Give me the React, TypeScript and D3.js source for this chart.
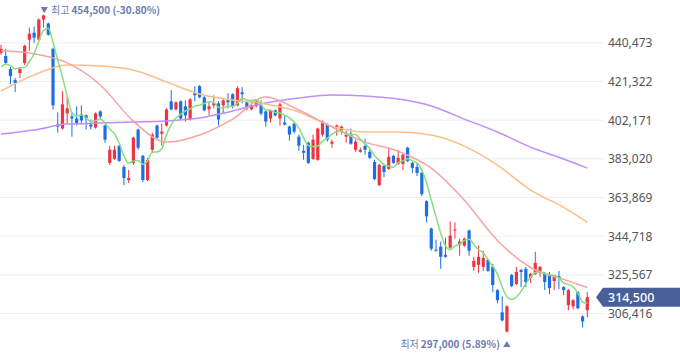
import React from "react";
import * as d3 from "d3";

// daily candles, oldest -> newest
const opens = [
  435500, 434000, 427500, 422000, 425500, 430500, 442000, 445500, 442000, 452000,
  450000, 437500, 400000, 398000, 405500, 404000, 403000, 405000, 404500, 400000,
  398500, 406500, 399500, 381000, 383000, 389500, 379000, 372500, 381000, 397500,
  384500, 372500, 387500, 399500, 395500, 399500, 411500, 407500, 411500, 409000,
  402500, 415500, 419000, 413500, 407500, 409500, 410500, 409500, 412000, 415000,
  409500, 416000, 411000, 407500, 409000, 409500, 406500, 403000, 407000, 403000,
  401000, 399000, 400500, 394000, 387000, 391000, 383000, 382500, 395000, 400000,
  390500, 398500, 397000, 394000, 395500, 387500, 386500, 389500, 386500, 381500,
  370000, 379500, 378000, 384500, 380500, 380500, 388500, 381000, 379000, 376000,
  362000, 348500, 338000, 339500, 335500, 339000, 347500, 340500, 340000, 347500,
  329500, 330500, 329500, 333000, 329500, 318000, 307000, 297500, 325500, 321000,
  328000, 328500, 324000, 326000, 326500, 326000, 326000, 322500, 325000, 319500,
  310500, 310000, 317000, 305000, 308000,
];
const highs = [
  439500, 437500, 428500, 423000, 428500, 439500, 448000, 448500, 452500, 454500,
  450500, 438000, 406000, 416500, 414000, 405500, 409000, 409500, 405000, 402500,
  406000, 407000, 400000, 389500, 389500, 390000, 380000, 377500, 394000, 398000,
  385000, 383500, 396000, 400000, 400500, 408000, 417000, 411500, 412000, 412000,
  413000, 419000, 419500, 414000, 411500, 414500, 411500, 413000, 415500, 415500,
  419000, 418500, 411500, 411500, 412000, 412000, 407000, 407500, 407500, 411000,
  404500, 399500, 401000, 395000, 390000, 391500, 395000, 398500, 402000, 400500,
  392500, 400000, 399500, 397000, 398000, 392500, 388500, 393000, 387500, 382500,
  380500, 380000, 388500, 385000, 387500, 385500, 389000, 381500, 381000, 376500,
  362500, 349000, 343000, 342000, 344000, 352000, 351500, 343500, 344000, 348000,
  334500, 340000, 337500, 333500, 331000, 318500, 315000, 310500, 326000, 329500,
  328500, 329500, 326500, 337000, 330000, 327000, 327000, 325500, 327500, 320000,
  318500, 313500, 317500, 305500, 317000,
];
const lows = [
  434500, 429500, 420000, 416000, 423000, 429500, 436500, 440500, 441500, 448000,
  444000, 407500, 396000, 397500, 400500, 394000, 399500, 400500, 397500, 397500,
  398000, 403000, 391000, 380000, 382500, 381500, 370000, 371000, 380000, 387500,
  371500, 372000, 386000, 393000, 389500, 399000, 407000, 407000, 402500, 401500,
  402000, 411500, 413000, 406500, 404500, 408000, 399500, 405500, 408000, 408000,
  409000, 410500, 407000, 407000, 408500, 404500, 399000, 401000, 404000, 399500,
  399500, 392000, 395500, 387000, 382500, 380500, 382500, 382000, 394000, 391500,
  388500, 394500, 395000, 391000, 390000, 386500, 386000, 385000, 383000, 372500,
  369500, 374000, 377500, 380500, 380000, 377500, 381500, 376000, 374500, 364500,
  351500, 337500, 337000, 328500, 334000, 338500, 343500, 335000, 339500, 335000,
  327500, 326500, 327500, 327000, 317000, 311500, 302500, 297000, 319500, 320500,
  319500, 319500, 321500, 325500, 324500, 318000, 316000, 318000, 318500, 315500,
  308000, 308500, 308500, 299500, 304500,
];
const closes = [
  437500, 430500, 424000, 420500, 427500, 439000, 445000, 443000, 452000, 454000,
  444500, 409500, 399000, 410000, 408000, 403000, 400500, 402000, 403000, 399000,
  405500, 404000, 392500, 387500, 387500, 382000, 373500, 373500, 393500, 388500,
  372500, 382500, 395000, 393500, 396500, 407500, 407500, 411000, 403000, 404500,
  412500, 414500, 413500, 407000, 409000, 410500, 402500, 412000, 411000, 409000,
  418000, 415000, 408000, 409500, 411500, 405500, 401500, 407000, 404500, 410000,
  400000, 395000, 396500, 389500, 386000, 381000, 392500, 398000, 401500, 392500,
  391500, 399500, 399000, 395000, 390500, 391500, 387500, 387500, 383500, 373000,
  380000, 376500, 384000, 381000, 383500, 385000, 382000, 378500, 376000, 365500,
  354500, 338500, 337500, 334500, 334500, 345000, 348000, 342000, 343500, 337500,
  332500, 334500, 334000, 327500, 320500, 313000, 303000, 310000, 320000, 327000,
  327000, 322000, 326000, 331500, 329500, 322000, 319000, 325000, 324000, 318000,
  318000, 313000, 309000, 302500, 314500,
];
// the four sessions before the window, needed for the first 5-day averages
const priorCloses = [424000, 427000, 428500, 425500];

// longer averages at these candle numbers
const maIndex = [1, 8, 15, 22, 29, 36, 43, 50, 57, 64, 71, 78, 85, 92, 99, 106, 113, 120, 125];
const ma20 = [
  436500, 435000, 430500, 419600, 401700, 391300, 394800, 402700, 413600, 407200,
  398700, 391300, 386800, 378400, 362500, 342600, 329200, 323300, 319300,
];
const ma60 = [
  416600, 424600, 429500, 429000, 427000, 421100, 415100, 412200, 410200, 406200,
  399200, 396300, 396300, 394800, 389300, 379900, 367500, 359000, 351600,
];
const ma120 = [
  395300, 397300, 400200, 400700, 401200, 401700, 403200, 406700, 410700, 413100,
  414600, 414100, 412600, 409200, 402700, 396300, 388800, 382900, 378400,
];

const yTicks = [306416, 325567, 344718, 363869, 383020, 402171, 421322, 440473];

const W = 680;
const H = 358;
const gridRight = 603;
const UP = "#ef3340";
const DOWN = "#1c6fe3";
const NOTE = "#6b7bb0";
const NUM_FONT = "'Noto Sans', sans-serif";
const KR_FONT = "'Noto Sans CJK KR', 'Noto Sans', sans-serif";

export default function App() {
  const n = closes.length;
  const x = d3.scaleLinear().domain([1, n]).range([1, 587.3]);
  const y = d3.scaleLinear().domain([306416, 440473]).range([313.5, 42.8]);
  const fmt = d3.format(",");

  const allCloses = [...priorCloses, ...closes];
  const ma5 = closes.map((_, i) => [i + 1, d3.mean(allCloses.slice(i, i + 5)) as number]);

  const line = d3
    .line<number[]>()
    .x((d) => x(d[0]))
    .y((d) => y(d[1]))
    .curve(d3.curveMonotoneX);

  const sampled = (vals: number[]) => maIndex.map((idx, i) => [idx, vals[i]]);

  const maxHigh = d3.max(highs) as number;
  const maxIdx = highs.indexOf(maxHigh) + 1;
  const minLow = d3.min(lows) as number;
  const minIdx = lows.indexOf(minLow) + 1;
  const last = closes[n - 1];
  // plain hyphen for the minus sign, like the original
  const pct = (v: number) => (v < 0 ? "-" : "") + Math.abs(v).toFixed(2) + "%";
  const maxPct = ((last - maxHigh) / maxHigh) * 100;
  const minPct = ((last - minLow) / minLow) * 100;

  const bodyW = 3.2;
  const tagY = y(last);

  return (
    <svg
      width={W}
      height={H}
      viewBox={`0 0 ${W} ${H}`}
      style={{ position: "absolute", left: 0, top: 0, background: "#fff" }}
    >
      {/* grid + price axis */}
      <g>
        {yTicks.map((t) => (
          <g key={t}>
            <line x1={0} x2={gridRight} y1={y(t)} y2={y(t)} stroke="#ededed" strokeWidth={1} />
            <text
              x={608}
              y={y(t)}
              dominantBaseline="central"
              fontSize={12}
              fontFamily={NUM_FONT}
              fill="#555"
            >
              {fmt(t)}
            </text>
          </g>
        ))}
      </g>

      {/* candles */}
      <g>
        {closes.map((c, i) => {
          const o = opens[i];
          const cx = x(i + 1);
          const col = c >= o ? UP : DOWN;
          const top = y(Math.max(o, c));
          const h = Math.max(1, y(Math.min(o, c)) - top);
          return (
            <g key={i}>
              <line x1={cx} x2={cx} y1={y(highs[i])} y2={y(lows[i])} stroke={col} strokeWidth={1} />
              <rect x={cx - bodyW / 2} y={top} width={bodyW} height={h} fill={col} />
            </g>
          );
        })}
      </g>

      {/* moving averages */}
      <g fill="none" strokeWidth={1.5}>
        <path d={line(sampled(ma120)) || ""} stroke="#bf8ff7" />
        <path d={line(sampled(ma60)) || ""} stroke="#fcbf85" />
        <path d={line(sampled(ma20)) || ""} stroke="#f8a3a3" />
        <path d={line(ma5) || ""} stroke="#86df7f" />
      </g>

      {/* high / low notes */}
      <text x={x(maxIdx) - 3} y={8.5} dominantBaseline="central" fill={NOTE} fontFamily={KR_FONT} fontSize={10}>
        <tspan fontSize={7.5}>▼</tspan>
        <tspan dx={3}>최고</tspan>
        <tspan dx={2} fontWeight="bold">
          {fmt(maxHigh)} ({pct(maxPct)})
        </tspan>
      </text>
      <text
        x={x(minIdx) + 3.5}
        y={343}
        textAnchor="end"
        dominantBaseline="central"
        fill={NOTE}
        fontFamily={KR_FONT}
        fontSize={10}
      >
        <tspan>최저</tspan>
        <tspan dx={2} fontWeight="bold">
          {fmt(minLow)} ({pct(minPct)})
        </tspan>
        <tspan dx={3} fontSize={7.5}>▲</tspan>
      </text>

      {/* last price tag */}
      <path
        d={`M596,${tagY} L603,${tagY - 9.5} L${W},${tagY - 9.5} L${W},${tagY + 9.5} L603,${tagY + 9.5} Z`}
        fill="#485f99"
      />
      <text
        x={608}
        y={tagY}
        dominantBaseline="central"
        fontSize={12.5}
        fontWeight={500}
        fontFamily={NUM_FONT}
        fill="#fff"
      >
        {fmt(last)}
      </text>
    </svg>
  );
}
